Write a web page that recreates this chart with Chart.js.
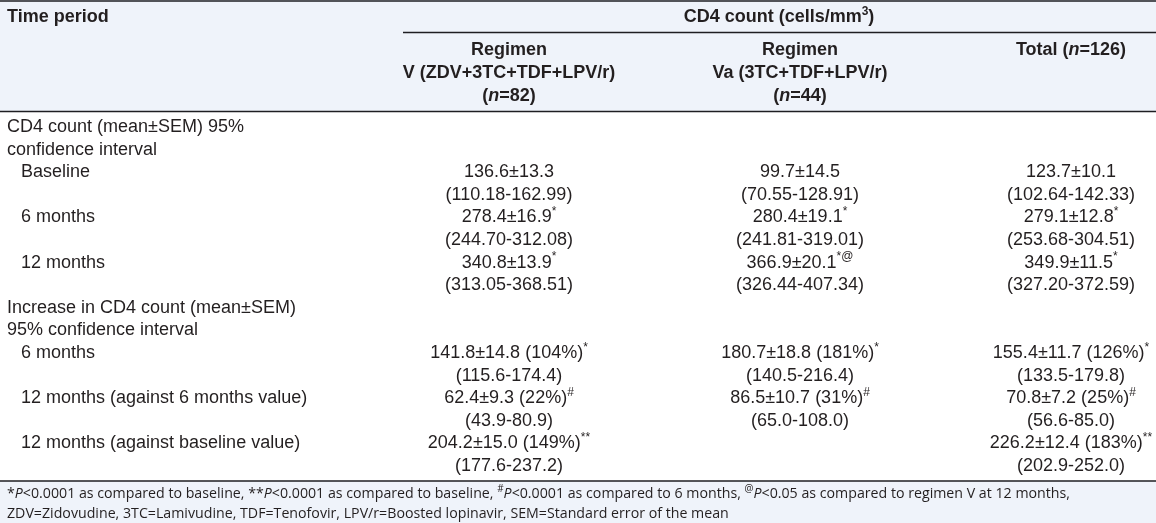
<!DOCTYPE html>
<html>
<head>
<meta charset="utf-8">
<script src="https://cdn.jsdelivr.net/npm/chart.js@4.4.1/dist/chart.umd.min.js"></script>
<style>
    body { margin: 0; background: #fff; }
    canvas { display: block; }
</style>
</head>
<body>
<canvas id="cd4Table" width="1156" height="523"></canvas>
<script>
// --- Table content (_x_ = italic, ^x^ = superscript) ---
const stubHeader = 'Time period';
const spanHeader = 'CD4 count (cells/mm^3^)';
const headerRegimenV = ['Regimen', 'V (ZDV+3TC+TDF+LPV/r)', '(_n_=82)'];
const headerRegimenVa = ['Regimen', 'Va (3TC+TDF+LPV/r)', '(_n_=44)'];
const headerTotal = ['Total (_n_=126)'];

const rowLabels = [
    'CD4 count (mean±SEM) 95%', 'confidence interval',
    '>Baseline', '', '>6 months', '', '>12 months', '',
    'Increase in CD4 count (mean±SEM)', '95% confidence interval',
    '>6 months', '', '>12 months (against 6 months value)', '',
    '>12 months (against baseline value)', ''
];
const regimenV = [
    '', '',
    '136.6±13.3', '(110.18-162.99)',
    '278.4±16.9^*^', '(244.70-312.08)',
    '340.8±13.9^*^', '(313.05-368.51)',
    '', '',
    '141.8±14.8 (104%)^*^', '(115.6-174.4)',
    '62.4±9.3 (22%)^#^', '(43.9-80.9)',
    '204.2±15.0 (149%)^**^', '(177.6-237.2)'
];
const regimenVa = [
    '', '',
    '99.7±14.5', '(70.55-128.91)',
    '280.4±19.1^*^', '(241.81-319.01)',
    '366.9±20.1^*@^', '(326.44-407.34)',
    '', '',
    '180.7±18.8 (181%)^*^', '(140.5-216.4)',
    '86.5±10.7 (31%)^#^', '(65.0-108.0)',
    '', ''
];
const totalCol = [
    '', '',
    '123.7±10.1', '(102.64-142.33)',
    '279.1±12.8^*^', '(253.68-304.51)',
    '349.9±11.5^*^', '(327.20-372.59)',
    '', '',
    '155.4±11.7 (126%)^*^', '(133.5-179.8)',
    '70.8±7.2 (25%)^#^', '(56.6-85.0)',
    '226.2±12.4 (183%)^**^', '(202.9-252.0)'
];
const footnotes = [
    '*_P_<0.0001 as compared to baseline, **_P_<0.0001 as compared to baseline, ^#^_P_<0.0001 as compared to 6 months, ^@^_P_<0.05 as compared to regimen V at 12 months,',
    'ZDV=Zidovudine, 3TC=Lamivudine, TDF=Tenofovir, LPV/r=Boosted lopinavir, SEM=Standard error of the mean'
];

// --- Layout (in scale units, 1 unit = 1px) ---
const BODY_FONT = 'Arial, "Liberation Sans", sans-serif';
const NOTE_FONT = '"Open Sans", "Noto Sans", sans-serif';
const TEXT_COLOR = '#231f20';
const BAND_COLOR = '#eff3fa';
const colCenters = [509, 800, 1071];
const firstRowY = 127;
const rowStep = 22.6;

// split a marked-up string into styled runs
function parseRuns(str) {
    const runs = [];
    str.split(/(_[^_]+_|\^[^^]+\^)/).forEach(part => {
        if (!part) return;
        if (part[0] === '_') runs.push({ text: part.slice(1, -1), italic: true });
        else if (part[0] === '^') runs.push({ text: part.slice(1, -1), sup: true });
        else runs.push({ text: part });
    });
    return runs;
}

function runFont(run, size, bold, family) {
    const s = run.sup ? Math.round(size * 0.68) : size;
    return (run.italic ? 'italic ' : '') + (bold ? 'bold ' : '') + s + 'px ' + family;
}

// draws rich text; align 'left' or 'center' around x, y is middle of the line
function drawRich(ctx, str, x, y, opts) {
    const { size, bold = false, family = BODY_FONT, align = 'left' } = opts;
    const runs = parseRuns(str);
    let width = 0;
    runs.forEach(r => {
        ctx.font = runFont(r, size, bold, family);
        r.w = ctx.measureText(r.text).width;
        width += r.w;
    });
    let cx = align === 'center' ? x - width / 2 : x;
    ctx.textBaseline = 'middle';
    ctx.textAlign = 'left';
    ctx.fillStyle = TEXT_COLOR;
    runs.forEach(r => {
        ctx.font = runFont(r, size, bold, family);
        ctx.fillText(r.text, cx, r.sup ? y - size * 0.32 : y);
        cx += r.w;
    });
}

const tablePlugin = {
    id: 'tablePlugin',
    beforeDraw(chart) {
        const { ctx, scales: { x, y } } = chart;
        ctx.save();
        ctx.fillStyle = '#ffffff';
        ctx.fillRect(0, 0, chart.width, chart.height);
        // header and footer bands
        ctx.fillStyle = BAND_COLOR;
        ctx.fillRect(x.getPixelForValue(0), y.getPixelForValue(0), x.getPixelForValue(1156), y.getPixelForValue(111.5));
        ctx.fillRect(x.getPixelForValue(0), y.getPixelForValue(481), x.getPixelForValue(1156), y.getPixelForValue(523) - y.getPixelForValue(481));
        // rules
        ctx.strokeStyle = '#1e1e22';
        ctx.lineWidth = 1.6;
        const hline = (x0, x1, yy) => {
            ctx.beginPath();
            ctx.moveTo(x.getPixelForValue(x0), y.getPixelForValue(yy));
            ctx.lineTo(x.getPixelForValue(x1), y.getPixelForValue(yy));
            ctx.stroke();
        };
        hline(0, 1156, 1);
        hline(403, 1156, 32.5);
        hline(0, 1156, 111.5);
        ctx.lineWidth = 1.3;
        hline(0, 1156, 481);
        ctx.restore();
    },
    afterDraw(chart) {
        const { ctx, scales: { x, y } } = chart;
        ctx.save();
        const size = 18;
        const px = v => x.getPixelForValue(v);
        const py = v => y.getPixelForValue(v);

        // header
        drawRich(ctx, stubHeader, px(7), py(17), { size, bold: true });
        drawRich(ctx, spanHeader, px(779), py(17), { size, bold: true, align: 'center' });
        const headerYs = [50, 73, 96];
        [headerRegimenV, headerRegimenVa, headerTotal].forEach((lines, c) => {
            lines.forEach((line, i) => {
                drawRich(ctx, line, px(colCenters[c]), py(headerYs[i]), { size, bold: true, align: 'center' });
            });
        });

        // body rows
        rowLabels.forEach((label, i) => {
            const yy = py(firstRowY + rowStep * i);
            if (label) {
                const indent = label[0] === '>';
                drawRich(ctx, indent ? label.slice(1) : label, px(indent ? 21 : 7), yy, { size });
            }
            [regimenV, regimenVa, totalCol].forEach((col, c) => {
                if (col[i]) drawRich(ctx, col[i], px(colCenters[c]), yy, { size, align: 'center' });
            });
        });

        // footnotes
        footnotes.forEach((note, i) => {
            drawRich(ctx, note, px(7), py(494 + 19.5 * i), { size: 14.2, family: NOTE_FONT });
        });
        ctx.restore();
    }
};

new Chart(document.getElementById('cd4Table'), {
    type: 'scatter',
    data: { datasets: [] },
    options: {
        responsive: false,
        animation: false,
        devicePixelRatio: 1,
        layout: { padding: 0 },
        plugins: { legend: { display: false }, tooltip: { enabled: false } },
        scales: {
            x: { type: 'linear', min: 0, max: 1156, display: false },
            y: { type: 'linear', min: 0, max: 523, reverse: true, display: false }
        }
    },
    plugins: [tablePlugin]
});
</script>
</body>
</html>
